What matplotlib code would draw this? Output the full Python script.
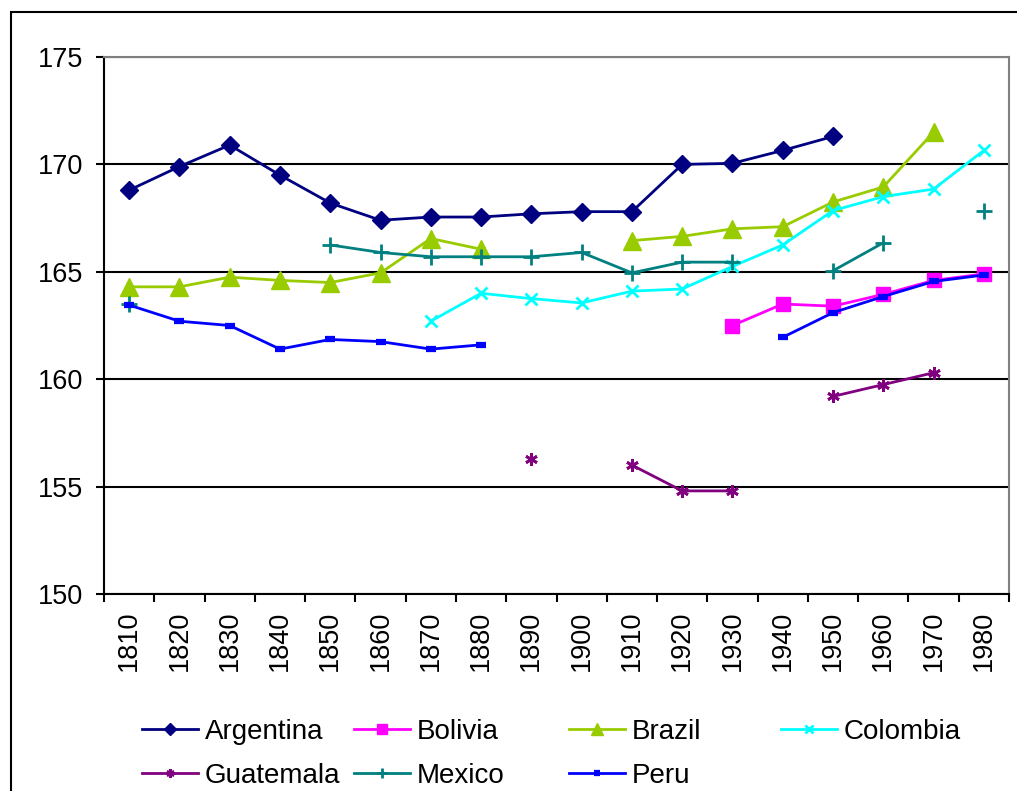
import matplotlib.pyplot as plt
import numpy as np
from matplotlib.patches import Rectangle
from matplotlib.ticker import MultipleLocator, FixedLocator

plt.rcParams['font.family'] = ['Liberation Sans', 'DejaVu Sans']

decades = [1810, 1820, 1830, 1840, 1850, 1860, 1870, 1880, 1890,
           1900, 1910, 1920, 1930, 1940, 1950, 1960, 1970, 1980]

argentina = [168.8, 169.9, 170.9, 169.5, 168.2, 167.4, 167.55, 167.55, 167.7,
             167.8, 167.8, 170.0, 170.05, 170.65, 171.3, None, None, None]
bolivia = [None, None, None, None, None, None, None, None, None,
           None, None, None, 162.5, 163.5, 163.4, 163.95, 164.6, 164.9]
brazil = [164.3, 164.3, 164.75, 164.6, 164.5, 164.95, 166.55, 166.05, None,
          None, 166.45, 166.65, 167.0, 167.1, 168.25, 168.95, 171.5, None]
colombia = [None, None, None, None, None, None, 162.7, 164.0, 163.75,
            163.55, 164.1, 164.2, 165.25, 166.25, 167.85, 168.5, 168.85, 170.65]
guatemala = [None, None, None, None, None, None, None, None, 156.3,
             None, 156.0, 154.8, 154.8, None, 159.2, 159.75, 160.3, None]
mexico = [163.5, None, None, None, 166.25, 165.9, 165.7, 165.7, 165.7,
          165.9, 164.95, 165.45, 165.45, None, 165.05, 166.35, None, 167.85]
peru = [163.45, 162.7, 162.5, 161.4, 161.85, 161.75, 161.4, 161.6, None,
        None, None, None, None, 161.95, 163.1, 163.85, 164.55, 164.85]

names = ['Argentina', 'Bolivia', 'Brazil', 'Colombia', 'Guatemala', 'Mexico', 'Peru']
series = [argentina, bolivia, brazil, colombia, guatemala, mexico, peru]
colors = ['#000080', '#FF00FF', '#99CC00', '#00FFFF', '#800080', '#008080', '#0000FF']
# marker, size, edge width
markers = [('D', 9.5, 1), ('s', 10, 1), ('^', 12.5, 1), ('x', 9, 2),
           ((6, 2, 0), 9, 2), ('+', 11, 2), ('_', 7, 4.5)]

fig = plt.figure(figsize=(10.17, 7.91), dpi=100)
ax = fig.add_axes([104 / 1017, 1 - 594 / 791, 905 / 1017, 537 / 791])

x = np.arange(len(decades))
lines = []
for name, vals, col, (mk, ms, mew) in zip(names, series, colors, markers):
    y = np.array([np.nan if v is None else v for v in vals], dtype=float)
    ln, = ax.plot(x, y, color=col, lw=2, marker=mk, ms=ms, mew=mew,
                  mec=col, mfc=col, label=name, clip_on=False)
    lines.append(ln)

ax.set_xlim(-0.5, len(decades) - 0.5)
ax.set_ylim(150, 175)
ax.yaxis.set_major_locator(MultipleLocator(5))
ax.grid(axis='y', color='black', lw=1.5)
ax.set_axisbelow(True)

ax.set_xticks(x)
ax.set_xticklabels([str(d) for d in decades], rotation=90)
ax.xaxis.set_minor_locator(FixedLocator(np.arange(-0.5, len(decades), 1.0)))
ax.tick_params(axis='x', which='major', length=0, pad=12, labelsize=19.5)
ax.tick_params(axis='x', which='minor', length=6, width=1.5, direction='out')
ax.tick_params(axis='y', length=6, width=1.5, pad=9, labelsize=19.5)

for side in ['left', 'bottom']:
    ax.spines[side].set_color('black')
    ax.spines[side].set_linewidth(1.5)
for side in ['top', 'right']:
    ax.spines[side].set_color('#808080')
    ax.spines[side].set_linewidth(1.5)

# chart area frame (runs off the right and bottom edge)
fig.add_artist(Rectangle((11 / 1017, -0.1), 1.2, 1.1 - 11.5 / 791,
                         transform=fig.transFigure, fill=False,
                         ec='black', lw=1.5))

# legend laid out row by row in fixed-width columns
columns = [[0, 4], [1, 5], [2, 6], [3]]
col_x = [142, 354, 569, 781]
for idx, cx in zip(columns, col_x):
    leg = fig.legend([lines[i] for i in idx], [names[i] for i in idx],
                     loc='upper left', bbox_to_anchor=(cx / 1017, 1 - 719 / 791),
                     frameon=False, fontsize=20, handlelength=2.0,
                     handletextpad=0.25, labelspacing=0.64, borderpad=0,
                     borderaxespad=0, markerscale=0.65)

fig.savefig('out.png', dpi=100)
